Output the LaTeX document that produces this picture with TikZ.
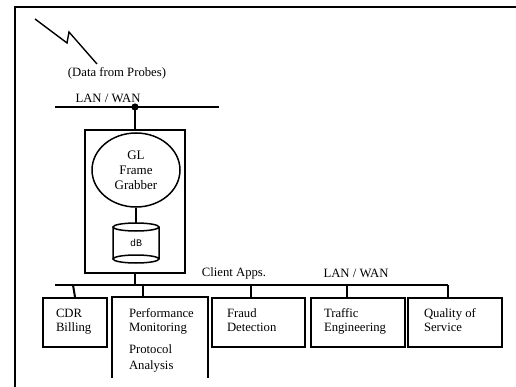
\documentclass[tikz,border=0pt]{standalone}
\usepackage{fontspec}
\setmainfont{Liberation Serif}
\newfontfamily\dbfont{Liberation Mono}
\usetikzlibrary{shapes.geometric}

\begin{document}
\begin{tikzpicture}[x=1pt,y=-1pt,line width=2pt,
    capt/.style={inner sep=0pt,font=\fontsize{12.7}{14}\selectfont},
    lbl/.style={capt,anchor=base west},
    appbox/.style={draw,rectangle,inner sep=0pt,minimum height=49pt}]
    \useasboundingbox (0,0) rectangle (516,387);
    \draw (15,387) -- (15,7) -- (516,7);
    \draw[line width=1.4pt] (35,19) -- (67,43) -- (69,32) -- (97,64);
    \node[capt] (probes) at (117,73) {(Data from Probes)};
    \node[capt] (lan1) at (108,98) {LAN / WAN};
    \coordinate (bus1w) at (55,107);
    \coordinate (bus1e) at (219,107);
    \coordinate (tap0) at (135,107);
    \draw (bus1w) -- (bus1e);
    \filldraw (tap0) circle (2.5pt);
    % frame grabber
    \node[draw,rectangle,minimum width=100pt,minimum height=143pt] (server) at (135,201.5) {};
    \draw (tap0) -- (server.north);
    \node[draw,ellipse,line width=1.5pt,minimum width=88pt,minimum height=74pt,inner sep=0pt,
        align=center,font=\fontsize{13}{15}\selectfont] (grabber) at (136,170) {GL\\Frame\\Grabber};
    \coordinate (dbtop) at (136,223);
    \draw[line width=1.5pt] (136,227) ellipse (23pt and 4pt)
        (113,227) -- (113,259) (159,227) -- (159,259)
        (136,259) ellipse (23pt and 4pt);
    \node[font=\dbfont\fontsize{10}{10}\selectfont] (db) at (136,243) {dB};
    \draw[line width=1.5pt] (grabber.south) -- (dbtop);
    % client lan
    \coordinate (bus2w) at (55,285);
    \coordinate (bus2e) at (448,285);
    \draw (bus2w) -- (bus2e);
    \draw (server.south) -- (server.south |- bus2w);
    \node[capt] (client) at (234,273) {Client Apps.};
    \node[capt] (lan2) at (356,273) {LAN / WAN};
    \node[appbox,minimum width=64pt] (cdr) at (75,322.5) {};
    \path node[rectangle,inner sep=0pt,minimum width=94pt,minimum height=79pt] (perf) at (160,337.5) {};
    \draw (perf.south west) -- (perf.north west) -- (perf.north east) -- (perf.south east);
    \node[appbox,minimum width=93pt] (fraud) at (258.5,322.5) {};
    \node[appbox,minimum width=94pt] (traffic) at (358,322.5) {};
    \node[appbox,minimum width=94pt] (quality) at (455,322.5) {};
    \coordinate (tap1) at (73,285);
    \coordinate (tap2) at (143,285);
    \coordinate (tap3) at (251,285);
    \coordinate (tap4) at (347,285);
    \coordinate (tap5) at (448,285);
    \draw (tap1) -- (cdr.north);
    \draw (tap2) -- (tap2 |- perf.north);
    \draw (tap3) -- (tap3 |- fraud.north);
    \draw (tap4) -- (tap4 |- traffic.north);
    \draw (tap5) -- (tap5 |- quality.north);
    \node[lbl] (cdr1) at (55,317) {CDR};
    \node[lbl] (cdr2) at (55,331) {Billing};
    \node[lbl] (perf1) at (128,317) {Performance};
    \node[lbl] (perf2) at (128,331) {Monitoring};
    \node[lbl] (perf3) at (128,353) {Protocol};
    \node[lbl] (perf4) at (128,369) {Analysis};
    \node[lbl] (fraud1) at (226,317) {Fraud};
    \node[lbl] (fraud2) at (226,331) {Detection};
    \node[lbl] (traffic1) at (323,317) {Traffic};
    \node[lbl] (traffic2) at (323,331) {Engineering};
    \node[lbl] (quality1) at (423,317) {Quality of};
    \node[lbl] (quality2) at (423,331) {Service};
\end{tikzpicture}
\end{document}
